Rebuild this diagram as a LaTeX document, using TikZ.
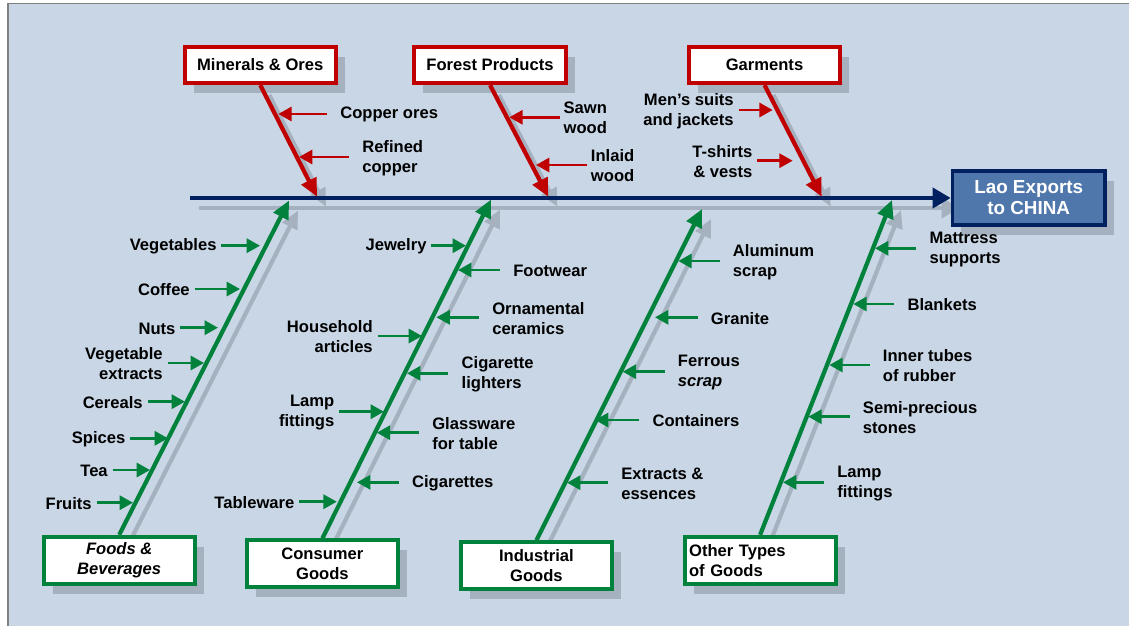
\documentclass[tikz,border=0pt]{standalone}
\usepackage{fontspec}
\setmainfont{Liberation Sans}
\usetikzlibrary{arrows.meta,calc,shadows}
\definecolor{paper}{RGB}{200,214,229}
\definecolor{dropgray}{RGB}{166,177,191}
\definecolor{navyblue}{RGB}{0,32,96}
\definecolor{steel}{RGB}{79,119,172}
\definecolor{crimson}{RGB}{192,0,0}
\definecolor{leafgreen}{RGB}{0,130,60}
\pgfdeclarelayer{back}
\pgfdeclarelayer{under}
\pgfsetlayers{back,under,main}
% label right of the bone, arrow pointing left
\def\leafR#1#2(#3)(#4)#5{%
	\coordinate (#2-tip) at (#3);
	\node[leaf, anchor=west, align=left] (#2) at (#4) {#5};
	\draw[twig, shorten <=9.2pt, #1] (#2.west |- #2-tip) -- (#2-tip);}
% label left of the bone, arrow pointing right
\def\leafL#1#2(#3)(#4)#5{%
	\coordinate (#2-tip) at (#3);
	\node[leaf, anchor=east, align=right] (#2) at (#4) {#5};
	\draw[twig, shorten <=3.2pt, #1] (#2.east |- #2-tip) -- (#2-tip);}

\begin{document}
\begin{tikzpicture}[x=0.025cm, y=-0.025cm,
		txt/.style={font=\fontsize{11.8}{14.2}\selectfont\bfseries},
		leaf/.style={txt, inner sep=0pt, yshift=-0.6pt},
		twig/.style={line width=2pt, -{Triangle[length=9.5pt,width=10pt]}},
		bone/.style={line width=3pt, -{Triangle[length=12.8pt,width=11.5pt]}},
		spine/.style={navyblue, line width=2.8pt, -{Triangle[length=12.8pt,width=14.2pt]}},
		box/.style={txt, draw, line width=2.85pt, fill=white, minimum width=107.4pt, inner sep=0pt, align=center,
			drop shadow={shadow xshift=6.4pt, shadow yshift=-7.1pt, fill=dropgray, opacity=1}},
		redbox/.style={box, draw=crimson, minimum height=25.6pt},
		greenbox/.style={box, draw=leafgreen, minimum height=33.4pt},
		ghost/.style={dropgray, transform canvas={shift={(6.4pt,-7.1pt)}}}]
		%%%%% START %%%%%
		\useasboundingbox (0,0) rectangle (1129,626);
		\begin{pgfonlayer}{back}
			\fill[white] (0,0) rectangle (1129,626);
			\fill[paper] (7.9,3.3) rectangle (1129,626);
			\draw[gray, line width=1pt] (7.9,626) -- (7.9,3.3) -- (1129,3.3);
		\end{pgfonlayer}
		
		% category boxes
		\node[redbox] (minerals) at (260.25,65) {Minerals \& Ores};
		\node[redbox] (forest) at (490,65) {Forest Products};
		\node[redbox] (garments) at (764.5,65) {Garments};
		\node[greenbox] (foods) at (119.2,560.3) {\itshape Foods \&\\\itshape Beverages};
		\node[greenbox] (consumer) at (322.4,563.8) {Consumer\\Goods};
		\node[greenbox] (industrial) at (536.4,565.8) {Industrial\\Goods};
		\node[greenbox, inner xsep=3pt, text width=101pt, align=left] (other) at (760.1,560.3) {Other Types\\of Goods};
		\node[box, draw=navyblue, fill=steel, text=white, line width=2.5pt, minimum width=108.5pt, minimum height=38.3pt,
			font=\fontsize{13.4}{15}\selectfont\bfseries] (china) at (1028.7,198) {Lao Exports\\to CHINA};
		
		% where the bones meet the spine
		\coordinate (tail) at (190,198);
		\coordinate (minerals-in) at (317,196.7);
		\coordinate (forest-in) at (548.3,196.7);
		\coordinate (garments-in) at (821.7,196.7);
		\coordinate (foods-in) at (289,200.5);
		\coordinate (consumer-in) at (491,199.5);
		\coordinate (industrial-in) at (702,209);
		\coordinate (other-in) at (892,200);
		
		\begin{pgfonlayer}{under}
			\draw[spine, ghost] (tail) -- (china.west);
			\foreach \b in {minerals,forest,garments}
				\draw[bone, ghost] (\b.south) -- (\b-in);
			\foreach \b in {foods,consumer,industrial,other}
				\draw[bone, ghost] (\b.north) -- (\b-in);
		\end{pgfonlayer}
		
		\draw[spine] (tail) -- (china.west);
		\foreach \b in {minerals,forest,garments}
			\draw[bone, crimson] (\b.south) -- (\b-in);
		\foreach \b in {foods,consumer,industrial,other}
			\draw[bone, leafgreen] (\b.north) -- (\b-in);
		
		% minerals and forest products
		\leafR{crimson}{copper}(278.3,114)(340,114){Copper ores}
		\leafR{crimson}{refined}(299,157)(362,157){Refined\\copper}
		\leafR{crimson, shorten <=2.4pt}{sawn}(509.3,117.3)(563.3,117.3){Sawn\\wood}
		\leafR{crimson, shorten <=2.4pt}{inlaid}(536,165)(590.7,165){Inlaid\\wood}
		% garments
		\leafL{crimson}{suits}(772.7,110)(734,110){Men’s suits\\and jackets}
		\leafL{crimson}{tshirts}(792.7,160.7)(752.7,160.7){T-shirts\\\& vests}
		
		% foods and beverages
		\leafL{leafgreen}{vegetables}(260,245.7)(216.8,245.7){Vegetables}
		\leafL{leafgreen}{coffee}(240,289)(190,289){Coffee}
		\leafL{leafgreen}{nuts}(218,327.7)(175.7,327.7){Nuts}
		\leafL{leafgreen}{vegext}(204,363)(163,363){Vegetable\\extracts}
		\leafL{leafgreen}{cereals}(185,401.7)(143,401.7){Cereals}
		\leafL{leafgreen}{spices}(168,438.3)(125.7,438.3){Spices}
		\leafL{leafgreen}{tea}(150,470)(108,470){Tea}
		\leafL{leafgreen}{fruits}(133,502.7)(92,502.7){Fruits}
		
		% consumer goods
		\leafL{leafgreen}{jewelry}(466,245.7)(426.8,245.7){Jewelry}
		\leafR{leafgreen}{footwear}(458,270)(513,270){Footwear}
		\leafR{leafgreen}{ceramics}(436.4,317.3)(492,317.3){Ornamental\\ceramics}
		\leafL{leafgreen}{household}(422,336)(373,336){Household\\articles}
		\leafR{leafgreen}{lighters}(407,373.3)(461.4,373.3){Cigarette\\lighters}
		\leafL{leafgreen}{lampcons}(384,411.7)(334.6,411.7){Lamp\\fittings}
		\leafR{leafgreen}{glassware}(376.8,432.7)(432,432.7){Glassware\\for table}
		\leafR{leafgreen}{cigarettes}(357,482.3)(411.8,482.3){Cigarettes}
		\leafL{leafgreen}{tableware}(336.8,501.7)(294.6,501.7){Tableware}
		
		% industrial goods
		\leafR{leafgreen}{aluminum}(678.3,261)(732.7,261){Aluminum\\scrap}
		\leafR{leafgreen}{granite}(655,317.3)(710.7,317.3){Granite}
		\leafR{leafgreen}{ferrous}(622.7,371.7)(677.7,371.7){Ferrous\\\textit{scrap}}
		\leafR{leafgreen}{containers}(595,420)(652.3,420){Containers}
		\leafR{leafgreen}{extracts}(567,482.7)(621,482.7){Extracts \&\\essences}
		
		% other types of goods
		\leafR{leafgreen}{mattress}(875,248.3)(929.3,248.3){Mattress\\supports}
		\leafR{leafgreen}{blankets}(853.3,304)(907.3,304){Blankets}
		\leafR{leafgreen}{tubes}(829.3,365)(882.7,365){Inner tubes\\of rubber}
		\leafR{leafgreen}{stones}(808.3,416.7)(862.7,416.7){Semi-precious\\stones}
		\leafR{leafgreen}{lampother}(783,482.3)(837,482.3){Lamp\\fittings}
		%%%%% END %%%%%
\end{tikzpicture}
\end{document}
